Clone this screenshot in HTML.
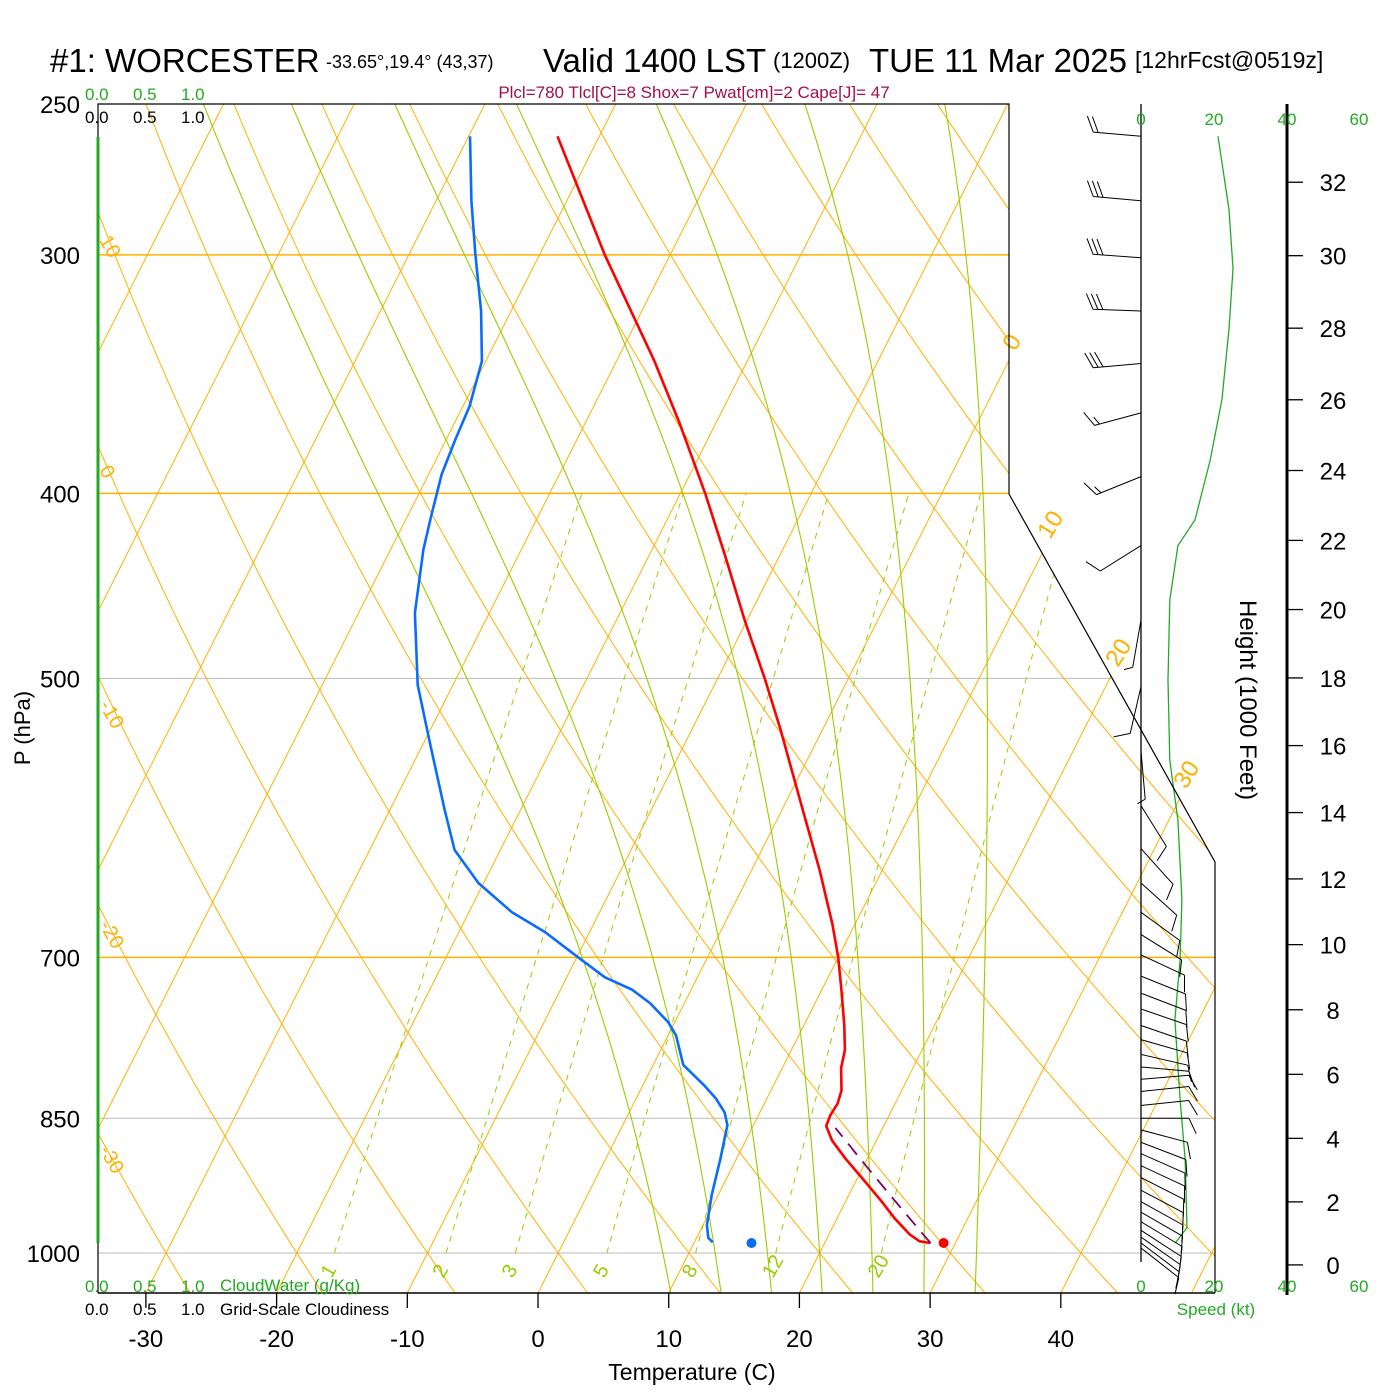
<!DOCTYPE html>
<html><head><meta charset="utf-8"><style>
html,body{margin:0;padding:0;background:#fff;}
svg{display:block;font-family:"Liberation Sans",Arial,sans-serif;}
</style></head><body>
<svg id="chart" width="1400" height="1400" viewBox="0 0 1400 1400" xmlns="http://www.w3.org/2000/svg">
<defs><clipPath id="plotclip"><polygon points="98,104 1009,104 1009,494 1215,862 1215,1293 98,1293"/></clipPath></defs>
<rect x="0" y="0" width="1400" height="1400" fill="#fff"/>
<g id="bg" clip-path="url(#plotclip)"></g>
<g id="marks"></g>
<g id="wind"></g>
<g id="axes"></g>
<g>
<text x="50" y="72" font-size="33">#1: WORCESTER</text>
<text x="326" y="68" font-size="18">-33.65°,19.4° (43,37)</text>
<text x="543" y="72" font-size="33">Valid 1400 LST</text>
<text x="773" y="68" font-size="22">(1200Z)</text>
<text x="869" y="72" font-size="33">TUE 11 Mar 2025</text>
<text x="1135" y="68" font-size="23">[12hrFcst@0519z]</text>
<text x="694" y="98" font-size="17" fill="#a0104a" text-anchor="middle">Plcl=780 Tlcl[C]=8 Shox=7 Pwat[cm]=2 Cape[J]= 47</text>
<text x="692" y="1380" font-size="23" text-anchor="middle">Temperature (C)</text>
<text transform="translate(30,728) rotate(-90)" font-size="22" text-anchor="middle">P (hPa)</text>
<text transform="translate(1240,700) rotate(90)" font-size="24" text-anchor="middle">Height (1000 Feet)</text>
<g font-size="17" fill="#22aa22"><text x="85" y="100">0.0</text><text x="133" y="100">0.5</text><text x="181" y="100">1.0</text></g>
<g font-size="17" fill="#000"><text x="85" y="123">0.0</text><text x="133" y="123">0.5</text><text x="181" y="123">1.0</text></g>
<g font-size="17" fill="#22aa22"><text x="85" y="1292">0.0</text><text x="133" y="1292">0.5</text><text x="181" y="1292">1.0</text><text x="220" y="1291">CloudWater (g/Kg)</text></g>
<g font-size="17" fill="#000"><text x="85" y="1315">0.0</text><text x="133" y="1315">0.5</text><text x="181" y="1315">1.0</text><text x="220" y="1315">Grid-Scale Cloudiness</text></g>
<g font-size="17" fill="#22aa22" text-anchor="middle"><text x="1141" y="125">0</text><text x="1214" y="125">20</text><text x="1287" y="125">40</text><text x="1359" y="125">60</text></g>
<g font-size="17" fill="#22aa22" text-anchor="middle"><text x="1141" y="1292">0</text><text x="1214" y="1292">20</text><text x="1287" y="1292">40</text><text x="1359" y="1292">60</text><text x="1216" y="1315">Speed (kt)</text></g>
</g>
</svg>
<script>
// ---- data ----
const tempP=[260,300,341,368,400,431,466,500,532,579,630,673,700,728,760,783,800,822,835,847,858,873,892,913,938,959,978,986,988];
const tempT=[-43.2,-35.0,-27.1,-22.7,-18.1,-14.2,-10.2,-6.4,-3.2,1.0,5.2,8.3,10.0,11.5,13.1,14.1,14.5,15.4,15.6,15.5,15.6,16.6,18.3,20.3,22.6,24.4,26.2,27.2,28.1];
const dewP=[260,281,300,321,341,360,375,391,411,428,462,504,542,586,615,640,663,679,700,717,728,740,757,769,797,817,830,844,857,894,932,967,982,987];
const dewT=[-49.9,-47.3,-44.9,-42.3,-40.3,-39.5,-39.3,-39.0,-38.2,-37.5,-35.7,-32.7,-29.4,-25.8,-23.5,-20.4,-16.7,-13.4,-9.9,-7.1,-4.5,-2.6,-0.5,0.6,2.3,4.7,6.1,7.3,8.0,8.8,9.5,10.3,10.9,11.4];
const sfcP=988, sfcT=29.1, sfcTd=14.4;
const parcelP=[988,860];
const parcelT0=28.1;
const speedP=[260,284,305,328,357,384,413,426,455,501,552,593,653,702,755,831,894,970,988];
const speedKt=[21.1,24.1,25.2,24.1,22.2,19.0,14.8,10.1,7.9,7.4,7.9,10.1,11.2,10.7,9.3,10.7,12.1,12.6,9.4];
const barbP=[260,281,301,321,342,363,392,426,466,505,546,583,614,640,663,681,698,716,731,745,760,773,787,799,811,823,837,850,862,875,887,900,913,927,940,952,963,973,981,988,994];
const barbDir=[275,275,274,272,265,255,248,238,190,193,175,148,138,132,126,122,115,112,111,109,109,106,103,95,85,84,84,90,105,111,114,115,117,118,119,120,121,123,125,127,128];
const barbSpd=[20,30,30,30,30,15,15,10,5,10,5,10,10,10,10,10,10,10,10,10,10,10,10,10,10,10,10,10,10,10,10,10,10,10,10,10,10,10,10,10,10];
const presLabels=[250,300,400,500,700,850,1000];
const tempTicks=[-30,-20,-10,0,10,20,30,40];
const heightTicks=[0,2,4,6,8,10,12,14,16,18,20,22,24,26,28,30,32];
const mixRatios=[1,2,3,5,8,12,20];
const moistStarts=[8,12,16,20,24,28,32];

// ---- scales ----
function yOfP(p){return 1253-829*Math.log(1000/p);}
function xOf(T,p){return 538+13.07*T+0.505*(1293-yOfP(p));}
const NS='http://www.w3.org/2000/svg';
function mk(tag,attrs,parent){const e=document.createElementNS(NS,tag);for(const k in attrs)e.setAttribute(k,attrs[k]);parent.appendChild(e);return e;}
const bg=document.getElementById('bg'),marks=document.getElementById('marks'),wind=document.getElementById('wind'),axes=document.getElementById('axes');
const ORANGE='#ffb000',GREEN='#99cc00';
function ptsStr(a){return a.map(q=>q[0].toFixed(1)+','+q[1].toFixed(1)).join(' ');}

// isobars
[[300,ORANGE],[400,ORANGE],[700,ORANGE],[500,'#bbbbbb'],[850,'#bbbbbb'],[1000,'#bbbbbb']].forEach(([p,c])=>{
  const l=mk('line',{x1:98,x2:1215,y1:yOfP(p),y2:yOfP(p),stroke:c,'stroke-width':c===ORANGE?1.5:1},bg);
  
  
});
// isotherms
for(let T=-120;T<=50;T+=10){
  const l=mk('line',{x1:xOf(T,1050),y1:yOfP(1050),x2:xOf(T,250),y2:yOfP(250),stroke:ORANGE,'stroke-width':1},bg);
  
  
}
// dry adiabats
for(let th=-40;th<=220;th+=10){
  const a=[];for(let p=1050;p>=245;p-=10){const T=(th+273.15)*Math.pow(p/1000,0.286)-273.15;a.push([xOf(T,p),yOfP(p)]);}
  const l=mk('polyline',{points:ptsStr(a),fill:'none',stroke:ORANGE,'stroke-width':1},bg);
  
  
}
// moist adiabats
function es(Tc){return 6.112*Math.exp(17.67*Tc/(Tc+243.5));}
function dTdp(Tk,p){const rs=0.622*es(Tk-273.15)/(p-es(Tk-273.15));return (287*Tk+2.5e6*rs)/(p*(1004+2.5e6*2.5e6*rs*0.622/(287*Tk*Tk)));}
moistStarts.forEach(T0=>{
  let T=T0+273.15,p=1000;
  while(p<1050){T+=dTdp(T,p)*2;p+=2;}
  const a=[[xOf(T-273.15,p),yOfP(p)]];
  while(p>250){T-=dTdp(T,p)*2;p-=2;if(p%10===0)a.push([xOf(T-273.15,p),yOfP(p)]);}
  const l=mk('polyline',{points:ptsStr(a),fill:'none',stroke:GREEN,'stroke-width':1.1},bg);
  
  
});
// mixing ratio lines
mixRatios.forEach(w=>{
  const a=[];for(let p=1000;p>=400;p-=10){const e=w*p/(622+w);const L=Math.log(e/6.112);const Td=243.5*L/(17.67-L);a.push([xOf(Td,p),yOfP(p)]);}
  const l=mk('polyline',{points:ptsStr(a),fill:'none',stroke:GREEN,'stroke-width':1,'stroke-dasharray':'6,6'},bg);
  
  
  const t=mk('text',{x:a[0][0]-8,y:1282,'font-size':20,fill:GREEN,transform:'rotate(-60 '+(a[0][0]-8)+' 1276)'},bg);
  t.textContent=w;
  
  
});
// orange labels
[[10,250],[0,480],[-10,715],[-20,935],[-30,1160]].forEach(([v,y])=>{
  const t=mk('text',{x:100,y:y,'font-size':20,fill:ORANGE,transform:'rotate(60 108 '+(y-6)+')'},axes);t.textContent=v;
  
  
});
[[0,1015,352],[10,1050,540],[20,1118,668],[30,1186,790]].forEach(([v,x,y])=>{
  const t=mk('text',{x:x,y:y,'font-size':24,fill:ORANGE,transform:'rotate(-58 '+x+' '+y+')'},axes);t.textContent=v;
  
  
});

// profiles
function line(P,T){return P.map((p,i)=>[xOf(T[i],p),yOfP(p)]);}
let e=mk('polyline',{points:ptsStr(line(tempP,tempT)),fill:'none',stroke:'#ff0000','stroke-width':2.6,'stroke-linejoin':'round'},marks);


e=mk('polyline',{points:ptsStr(line(dewP,dewT)),fill:'none',stroke:'#0a6cff','stroke-width':2.6,'stroke-linejoin':'round'},marks);


{const th=(parcelT0+273.15)*Math.pow(1000/parcelP[0],0.286);const a=[];for(let p=parcelP[0];p>=parcelP[1];p-=4){a.push([xOf(th*Math.pow(p/1000,0.286)-273.15,p),yOfP(p)]);}
e=mk('polyline',{points:ptsStr(a),fill:'none',stroke:'#800060','stroke-width':1.8,'stroke-dasharray':'14,9'},marks);

}
e=mk('circle',{cx:xOf(sfcT,sfcP),cy:yOfP(sfcP),r:5,fill:'#ff0000'},marks);


e=mk('circle',{cx:xOf(sfcTd,sfcP),cy:yOfP(sfcP),r:5,fill:'#0a6cff'},marks);



// wind panel
function xSpd(s){return 1141+s*3.65;}
e=mk('polyline',{points:ptsStr(speedP.map((p,i)=>[xSpd(speedKt[i]),yOfP(p)])),fill:'none',stroke:'#22aa22','stroke-width':1.3},wind);


e=mk('line',{x1:1141,y1:104,x2:1141,y2:1262,stroke:'#000','stroke-width':1.3},wind);


barbP.forEach((p,i)=>{
  const y=yOfP(p),d=barbDir[i]*Math.PI/180,L=48;
  const vx=Math.sin(d),vy=-Math.cos(d);
  const ex=1141+vx*L,ey=y+vy*L;
  let path='M1141,'+y.toFixed(1)+' L'+ex.toFixed(1)+','+ey.toFixed(1);
  const fa=Math.atan2(vy,vx)+65*Math.PI/180;
  let s=barbSpd[i],k=0;
  while(s>=10){const bx=ex-vx*5*k,by=ey-vy*5*k;path+=' M'+bx.toFixed(1)+','+by.toFixed(1)+' l'+(17*Math.cos(fa)).toFixed(1)+','+(17*Math.sin(fa)).toFixed(1);s-=10;k++;}
  if(s>=5){const bx=ex-vx*5*k,by=ey-vy*5*k;path+=' M'+bx.toFixed(1)+','+by.toFixed(1)+' l'+(9*Math.cos(fa)).toFixed(1)+','+(9*Math.sin(fa)).toFixed(1);}
  const b=mk('path',{d:path,fill:'none',stroke:'#000','stroke-width':1},wind);
  
  
});

// frame
e=mk('polyline',{points:'98,1293 98,104 1009,104 1009,494 1215,862 1215,1293',fill:'none',stroke:'#000','stroke-width':1.2},axes);


e=mk('line',{x1:98,y1:137,x2:98,y2:1243,stroke:'#22aa22','stroke-width':3},axes);


e=mk('line',{x1:98,y1:1293,x2:1215,y2:1293,stroke:'#000','stroke-width':1.5},axes);


e=mk('line',{x1:1287,y1:104,x2:1287,y2:1295,stroke:'#000','stroke-width':3},axes);


presLabels.forEach(p=>{
  const t=mk('text',{x:80,y:yOfP(p)+9,'font-size':24,'text-anchor':'end'},axes);t.textContent=p;
  
  
});
tempTicks.forEach(T=>{
  const x=538+13.07*T;
  const l=mk('line',{x1:x,y1:1293,x2:x,y2:1308,stroke:'#000','stroke-width':1.3},axes);
  
  
  const t=mk('text',{x:x,y:1347,'font-size':24,'text-anchor':'middle'},axes);t.textContent=T;
  
  
});
heightTicks.forEach(h=>{
  const p=1013.25*Math.pow(1-2.25577e-5*h*304.8,5.25588);
  const y=yOfP(p)+1-h*(32-h)*0.045;
  const l=mk('line',{x1:1287,y1:y,x2:1303,y2:y,stroke:'#000','stroke-width':1.3},axes);
  
  
  const t=mk('text',{x:1333,y:y+9,'font-size':24,'text-anchor':'middle'},axes);t.textContent=h;
  
  
});
</script>
</body></html>
